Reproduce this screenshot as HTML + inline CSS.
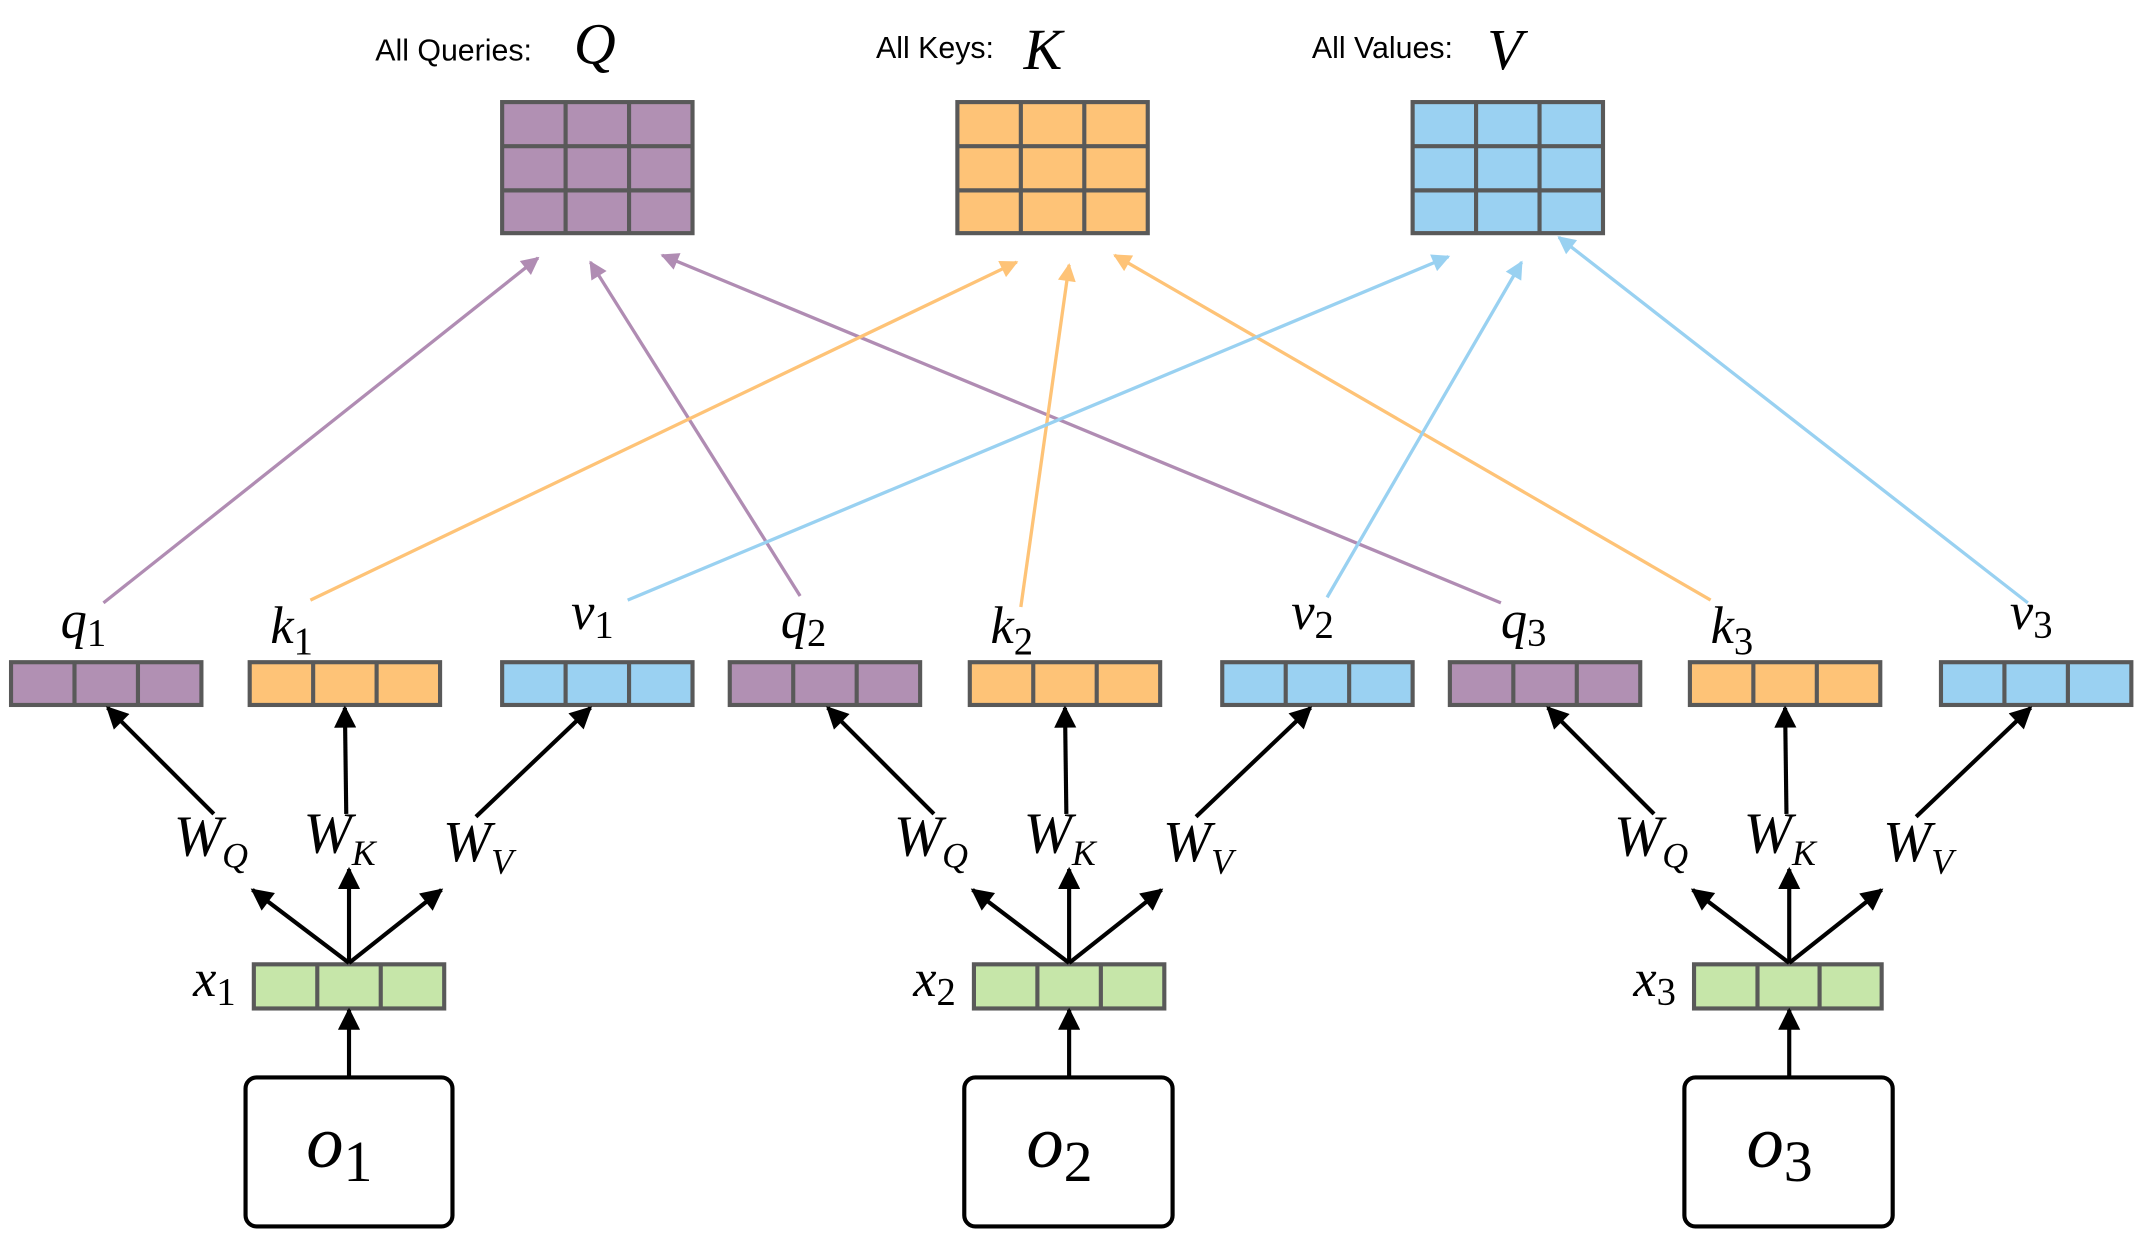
<!DOCTYPE html>
<html><head><meta charset="utf-8"><style>
html,body{margin:0;padding:0;background:#fff;}
svg{display:block;}
.m{font-family:"Liberation Serif",serif;font-style:italic;}
.s{font-family:"Liberation Sans",sans-serif;}
</style></head><body>
<svg width="2141" height="1243" viewBox="0 0 1552 901" preserveAspectRatio="none" xmlns="http://www.w3.org/2000/svg">
<defs>
<marker id="ap" viewBox="0 0 10 10" refX="9" refY="5" markerWidth="20" markerHeight="13" orient="auto" markerUnits="userSpaceOnUse"><path d="M0,0 L10,5 L0,10 z" fill="#b08cb3"/></marker>
<marker id="ao" viewBox="0 0 10 10" refX="9" refY="5" markerWidth="20" markerHeight="13" orient="auto" markerUnits="userSpaceOnUse"><path d="M0,0 L10,5 L0,10 z" fill="#fec377"/></marker>
<marker id="ac" viewBox="0 0 10 10" refX="9" refY="5" markerWidth="20" markerHeight="13" orient="auto" markerUnits="userSpaceOnUse"><path d="M0,0 L10,5 L0,10 z" fill="#99d1f1"/></marker>
<marker id="ak" viewBox="0 0 10 10" refX="9" refY="5" markerWidth="20" markerHeight="16" orient="auto" markerUnits="userSpaceOnUse"><path d="M0,0 L10,5 L0,10 z" fill="#000"/></marker>
</defs>

<text class="s" x="272" y="44" font-size="22">All Queries:</text>
<text class="m" x="416" y="46" font-size="42">Q</text>
<text class="s" x="635" y="42" font-size="22">All Keys:</text>
<text class="m" x="742" y="50" font-size="42">K</text>
<text class="s" x="951" y="42" font-size="22">All Values:</text>
<text class="m" x="1078" y="50" font-size="42">V</text>

<g stroke="#595959" stroke-width="3">
<g fill="#b190b3"><rect x="364" y="74" width="138" height="95"/><line x1="410" y1="74" x2="410" y2="169"/><line x1="456" y1="74" x2="456" y2="169"/><line x1="364" y1="106" x2="502" y2="106"/><line x1="364" y1="138" x2="502" y2="138"/></g>
<g fill="#fec377"><rect x="694" y="74" width="138" height="95"/><line x1="740" y1="74" x2="740" y2="169"/><line x1="786" y1="74" x2="786" y2="169"/><line x1="694" y1="106" x2="832" y2="106"/><line x1="694" y1="138" x2="832" y2="138"/></g>
<g fill="#9ad1f2"><rect x="1024" y="74" width="138" height="95"/><line x1="1070" y1="74" x2="1070" y2="169"/><line x1="1116" y1="74" x2="1116" y2="169"/><line x1="1024" y1="106" x2="1162" y2="106"/><line x1="1024" y1="138" x2="1162" y2="138"/></g>
</g>

<g stroke-width="2.4" fill="none">
<line x1="75" y1="437" x2="390" y2="187" stroke="#b08cb3" marker-end="url(#ap)"/>
<line x1="580" y1="432" x2="428" y2="190" stroke="#b08cb3" marker-end="url(#ap)"/>
<line x1="1088" y1="437" x2="480" y2="185" stroke="#b08cb3" marker-end="url(#ap)"/>
<line x1="225" y1="435" x2="737" y2="190" stroke="#fec377" marker-end="url(#ao)"/>
<line x1="740" y1="440" x2="775" y2="192" stroke="#fec377" marker-end="url(#ao)"/>
<line x1="1240" y1="435" x2="808" y2="185" stroke="#fec377" marker-end="url(#ao)"/>
<line x1="455" y1="435" x2="1050" y2="186" stroke="#99d1f1" marker-end="url(#ac)"/>
<line x1="962" y1="433" x2="1103" y2="190" stroke="#99d1f1" marker-end="url(#ac)"/>
<line x1="1470" y1="437" x2="1130" y2="172" stroke="#99d1f1" marker-end="url(#ac)"/>
</g>

<g stroke="#595959" stroke-width="3">
<g fill="#b190b3"><rect x="8" y="480" width="138" height="31"/><line x1="54" y1="480" x2="54" y2="511"/><line x1="100" y1="480" x2="100" y2="511"/></g>
<g fill="#fec377"><rect x="181" y="480" width="138" height="31"/><line x1="227" y1="480" x2="227" y2="511"/><line x1="273" y1="480" x2="273" y2="511"/></g>
<g fill="#9ad1f2"><rect x="364" y="480" width="138" height="31"/><line x1="410" y1="480" x2="410" y2="511"/><line x1="456" y1="480" x2="456" y2="511"/></g>
<g fill="#b190b3"><rect x="529" y="480" width="138" height="31"/><line x1="575" y1="480" x2="575" y2="511"/><line x1="621" y1="480" x2="621" y2="511"/></g>
<g fill="#fec377"><rect x="703" y="480" width="138" height="31"/><line x1="749" y1="480" x2="749" y2="511"/><line x1="795" y1="480" x2="795" y2="511"/></g>
<g fill="#9ad1f2"><rect x="886" y="480" width="138" height="31"/><line x1="932" y1="480" x2="932" y2="511"/><line x1="978" y1="480" x2="978" y2="511"/></g>
<g fill="#b190b3"><rect x="1051" y="480" width="138" height="31"/><line x1="1097" y1="480" x2="1097" y2="511"/><line x1="1143" y1="480" x2="1143" y2="511"/></g>
<g fill="#fec377"><rect x="1225" y="480" width="138" height="31"/><line x1="1271" y1="480" x2="1271" y2="511"/><line x1="1317" y1="480" x2="1317" y2="511"/></g>
<g fill="#9ad1f2"><rect x="1407" y="480" width="138" height="31"/><line x1="1453" y1="480" x2="1453" y2="511"/><line x1="1499" y1="480" x2="1499" y2="511"/></g>
<g fill="#c6e6a9"><rect x="184" y="699" width="138" height="32"/><line x1="230" y1="699" x2="230" y2="731"/><line x1="276" y1="699" x2="276" y2="731"/></g>
<g fill="#c6e6a9"><rect x="706" y="699" width="138" height="32"/><line x1="752" y1="699" x2="752" y2="731"/><line x1="798" y1="699" x2="798" y2="731"/></g>
<g fill="#c6e6a9"><rect x="1228" y="699" width="136" height="32"/><line x1="1274" y1="699" x2="1274" y2="731"/><line x1="1319" y1="699" x2="1319" y2="731"/></g>
</g>

<g class="m" font-size="38">
<text x="44" y="462">q<tspan font-style="normal" font-size="28" dy="6">1</tspan></text>
<text x="196" y="466">k<tspan font-style="normal" font-size="28" dy="8">1</tspan></text>
<text x="414" y="456">v<tspan font-style="normal" font-size="28" dy="6">1</tspan></text>
<text x="566" y="462">q<tspan font-style="normal" font-size="28" dy="6">2</tspan></text>
<text x="718" y="466">k<tspan font-style="normal" font-size="28" dy="8">2</tspan></text>
<text x="936" y="456">v<tspan font-style="normal" font-size="28" dy="6">2</tspan></text>
<text x="1088" y="462">q<tspan font-style="normal" font-size="28" dy="6">3</tspan></text>
<text x="1240" y="466">k<tspan font-style="normal" font-size="28" dy="8">3</tspan></text>
<text x="1457" y="456">v<tspan font-style="normal" font-size="28" dy="6">3</tspan></text>
<text x="140" y="722">x<tspan font-style="normal" font-size="28" dy="6">1</tspan></text>
<text x="662" y="722">x<tspan font-style="normal" font-size="28" dy="6">2</tspan></text>
<text x="1184" y="722">x<tspan font-style="normal" font-size="28" dy="6">3</tspan></text>
</g>

<g id="grp">
<g stroke="#000" stroke-width="3" fill="none">
<line x1="155" y1="590" x2="78" y2="513" marker-end="url(#ak)"/>
<line x1="251" y1="590" x2="250" y2="513" marker-end="url(#ak)"/>
<line x1="345" y1="592" x2="428" y2="513" marker-end="url(#ak)"/>
<line x1="253" y1="698" x2="183" y2="645" marker-end="url(#ak)"/>
<line x1="253" y1="698" x2="253" y2="630" marker-end="url(#ak)"/>
<line x1="253" y1="698" x2="320" y2="645" marker-end="url(#ak)"/>
<line x1="253" y1="781" x2="253" y2="732" marker-end="url(#ak)"/>
</g>
<g class="m" font-size="42">
<text x="126" y="620">W<tspan font-size="26" dy="9">Q</tspan></text>
<text x="220" y="618">W<tspan font-size="26" dy="9">K</tspan></text>
<text x="321" y="624">W<tspan font-size="26" dy="9">V</tspan></text>
</g>
</g>
<use href="#grp" x="522"/>
<use href="#grp" x="1044"/>

<g fill="#fff" stroke="#000" stroke-width="3">
<rect x="178" y="781" width="150" height="108" rx="8"/>
<rect x="699" y="781" width="151" height="108" rx="8"/>
<rect x="1221" y="781" width="151" height="108" rx="8"/>
</g>
<g class="m" font-size="54">
<text x="222" y="846">o<tspan font-style="normal" font-size="42" dy="10">1</tspan></text>
<text x="744" y="846">o<tspan font-style="normal" font-size="42" dy="10">2</tspan></text>
<text x="1266" y="846">o<tspan font-style="normal" font-size="42" dy="10">3</tspan></text>
</g>
</svg>
</body></html>
